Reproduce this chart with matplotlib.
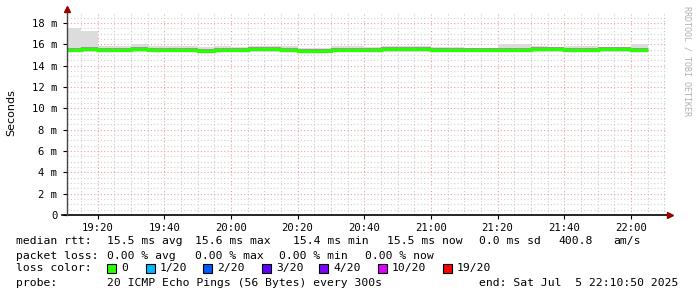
import matplotlib
matplotlib.use("Agg")
import matplotlib.pyplot as plt
import numpy as np

W, H = 697, 297

# 5 minute steps, times as minutes after 19:00 (start 19:10:50, data ends 22:05)
step_edges = [10 + 50/60.0] + [15 + 5*i for i in range(35)]
median = [15.5, 15.55, 15.45, 15.45, 15.55, 15.45, 15.45, 15.45, 15.4, 15.5,
          15.5, 15.55, 15.55, 15.45, 15.4, 15.4, 15.45, 15.5, 15.5, 15.6,
          15.6, 15.55, 15.5, 15.5, 15.45, 15.45, 15.45, 15.5, 15.55, 15.55,
          15.45, 15.45, 15.55, 15.55, 15.45]
smoke_hi = [17.5, 17.25, 15.85, 15.85, 16.05, 15.8, 15.8, 15.8, 15.75, 15.8,
            15.75, 15.85, 15.85, 15.8, 15.7, 15.7, 15.8, 15.8, 15.75, 15.85,
            15.85, 15.8, 15.75, 15.75, 15.7, 15.7, 16.05, 16.05, 15.8, 15.75,
            15.85, 15.85, 15.75, 15.75, 16.05]
smoke_lo = [15.3] * 35
tick_min = [20, 40, 60, 80, 100, 120, 140, 160, 180]
tick_lab = ["19:20", "19:40", "20:00", "20:20", "20:40", "21:00", "21:20", "21:40", "22:00"]
y_ticks = [0, 2, 4, 6, 8, 10, 12, 14, 16, 18]

loss_labels = ["0", "1/20", "2/20", "3/20", "4/20", "10/20", "19/20"]
loss_colors = ["#26ff00", "#00b8ff", "#0059ff", "#5e00ff", "#7e00ff", "#dd00ff", "#ff0000"]

x0 = 10 + 50/60.0
x1 = x0 + 180
ymax = 19.0

fig = plt.figure(figsize=(W/100, H/100), dpi=100)
fig.patch.set_facecolor("white")
left, right, bottom, top = 67, 667, 215, 12.3
ax = fig.add_axes([left/W, 1 - bottom/H, (right-left)/W, (bottom-top)/H])
ax.set_xlim(x0, x1)
ax.set_ylim(0, ymax)
ax.set_facecolor("white")

# grid
for xm in np.arange(15, x1, 5):
    major = (xm % 20) == 0
    ax.axvline(xm, color="#f0a0a0" if major else "#cccccc", lw=0.8,
               ls=(0, (1, 2)), zorder=1)
for yv in np.arange(0.5, ymax, 0.5):
    major = (yv % 2) == 0
    ax.axhline(yv, color="#f0a0a0" if major else "#d0d0d0", lw=0.8,
               ls=(0, (1, 2)), zorder=1)

edges = np.array(step_edges)
med = np.array(median)
hi = np.array(smoke_hi)
lo = np.array(smoke_lo)
ax.stairs(hi, edges, baseline=lo, fill=True, color="#dcdcdc", zorder=2)
ax.stairs(med + 0.17, edges, baseline=med - 0.17, fill=True, color="#999999", zorder=3)
ax.stairs(med, edges, baseline=None, color=loss_colors[0], lw=2.4, zorder=4)

for s in ax.spines.values():
    s.set_visible(False)
ax.plot([-5/600, 1.0], [0, 0], transform=ax.transAxes, color="black", lw=1.2, clip_on=False, zorder=5)
ax.plot([0, 0], [0, 1.01], transform=ax.transAxes, color="#444444", lw=1.0, clip_on=False, zorder=5)
ax.plot([1.005], [0], transform=ax.transAxes, marker=">", ms=4, color="#990000", clip_on=False, zorder=6)
ax.plot([0], [1.015], transform=ax.transAxes, marker="^", ms=4, color="#990000", clip_on=False, zorder=6)

ax.set_xticks(tick_min)
ax.set_xticklabels(tick_lab, family="DejaVu Sans Mono", fontsize=7.6)
ax.set_yticks(y_ticks)
ax.set_yticklabels([("%d m" % v) if v else "0" for v in y_ticks], family="DejaVu Sans Mono", fontsize=7.6)
ax.tick_params(axis="x", length=3, width=0.8, color="black", pad=3)
ax.tick_params(axis="y", length=3, width=0.8, color="black", pad=4)

fig.text(11/W, 1 - 113/H, "Seconds", rotation=90, ha="center", va="center",
         family="DejaVu Sans", fontsize=8.0)
fig.text(687/W, 1 - 6/H, "RRDTOOL / TOBI OETIKER", rotation=270, ha="center", va="top",
         family="DejaVu Sans Mono", fontsize=6.0, color="#b0b0b0")

mono = dict(family="DejaVu Sans Mono", fontsize=8.2, va="center", ha="left")

def t(x, y, s):
    fig.text(x/W, 1 - y/H, s, **mono)

y1, y2, y3, y4 = 241, 256, 268, 283
t(16, y1, "median rtt:")
t(107, y1, "15.5 ms avg")
t(195, y1, "15.6 ms max")
t(293, y1, "15.4 ms min")
t(387, y1, "15.5 ms now")
t(479, y1, "0.0 ms sd")
t(558, y1, "400.8")
t(613, y1, "am/s")
t(16, y2, "packet loss:")
t(107, y2, "0.00 % avg")
t(195, y2, "0.00 % max")
t(279, y2, "0.00 % min")
t(365, y2, "0.00 % now")
t(16, y3, "loss color:")
box_x = [107, 146, 203, 262, 319, 378, 443]
for bx, lab, col in zip(box_x, loss_labels, loss_colors):
    fig.patches.append(plt.Rectangle((bx/W, 1 - (y3 + 4.5)/H), 9/W, 9/H, transform=fig.transFigure,
                                     facecolor=col, edgecolor="black", lw=0.8))
    t(bx + 14, y3, lab)
t(16, y4, "probe:")
t(107, y4, "20 ICMP Echo Pings (56 Bytes) every 300s")
t(479, y4, "end: Sat Jul  5 22:10:50 2025")

fig.savefig("out.png", dpi=100, facecolor="white")
